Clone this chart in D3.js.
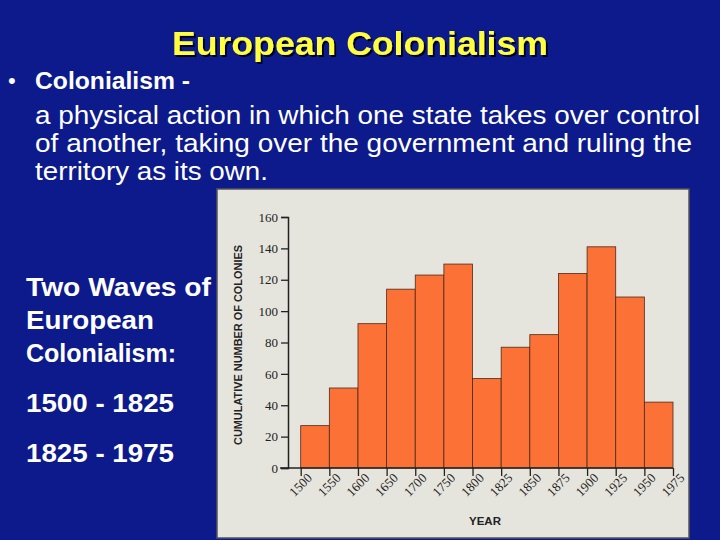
<!DOCTYPE html><html><head><meta charset="utf-8">
<script src="https://cdn.jsdelivr.net/npm/d3@7"></script>
<style>body{margin:0;background:#0c1a8c;}svg{display:block;}</style></head><body>
<svg id="c" width="720" height="540"><defs><filter id="sh"><feDropShadow dx="2" dy="2" stdDeviation="0.6" flood-color="#000022"/></filter></defs></svg>
<script>
const years = [1500,1550,1600,1650,1700,1750,1800,1825,1850,1875,1900,1925,1950,1975];
const values = [27,51,92,114,123,130,57,77,85,124,141,109,42];
const yTicks = [0,20,40,60,80,100,120,140,160];
const bodyLines = ["a physical action in which one state takes over control","of another, taking over the government and ruling the","territory as its own."];
const bodyLens = [665,657,233];
const sideLines = ["Two Waves of","European","Colonialism:"];
const sideLens = [185,128,150];
const waves = ["1500 - 1825","1825 - 1975"];

const svg = d3.select("#c");
svg.append("rect").attr("width",720).attr("height",540).attr("fill","#0c1a8c");
const tf = "Liberation Sans";
svg.append("text").attr("x",172).attr("y",55).attr("textLength",376).attr("lengthAdjust","spacingAndGlyphs")
 .attr("font-family",tf).attr("font-weight","bold").attr("font-size",34).attr("filter","url(#sh)")
 .attr("fill","#ffff40").text("European Colonialism");
svg.append("text").attr("x",8).attr("y",88).attr("fill","#fff").attr("font-family",tf).attr("font-size",22).text("•");
svg.append("text").attr("x",35).attr("y",89).attr("fill","#fff").attr("font-family",tf).attr("font-weight","bold").attr("font-size",24)
 .attr("textLength",155).attr("lengthAdjust","spacingAndGlyphs").text("Colonialism -");
bodyLines.forEach((l,i)=>svg.append("text").attr("x",35).attr("y",124+i*28).attr("fill","#fff")
 .attr("font-family",tf).attr("font-size",25).attr("textLength",bodyLens[i]).attr("lengthAdjust","spacingAndGlyphs").text(l));
sideLines.forEach((l,i)=>svg.append("text").attr("x",26).attr("y",296+i*33).attr("fill","#fff")
 .attr("font-family",tf).attr("font-weight","bold").attr("font-size",25).attr("textLength",sideLens[i]).attr("lengthAdjust","spacingAndGlyphs").text(l));
waves.forEach((l,i)=>svg.append("text").attr("x",26).attr("y",412+i*50).attr("fill","#fff")
 .attr("font-family",tf).attr("font-weight","bold").attr("font-size",25).attr("textLength",148).attr("lengthAdjust","spacingAndGlyphs").text(l));

svg.append("rect").attr("x",217).attr("y",189).attr("width",472).attr("height",349)
 .attr("fill","#e6e5dd").attr("stroke","#555").attr("stroke-width",1.5);
const x = d3.scaleBand().domain(d3.range(values.length)).range([300.7,673]).padding(0);
const y = d3.scaleLinear().domain([0,160]).range([468,217]);
const g = svg.append("g");
g.selectAll(".bar").data(values).join("rect").attr("x",(d,i)=>x(i)).attr("y",d=>y(d))
 .attr("width",x.bandwidth()).attr("height",d=>y(0)-y(d)).attr("fill","#fc7136").attr("stroke","#4a2a1a").attr("stroke-width",0.8);
const ya = g.append("g").attr("transform","translate(288,0)").call(d3.axisLeft(y).tickValues(yTicks).tickSize(7).tickPadding(3));
ya.select(".domain").attr("stroke","#222").attr("stroke-width",1.5);
ya.selectAll("line").attr("stroke","#222").attr("stroke-width",1.3);
ya.selectAll("text").attr("font-family","Liberation Serif").attr("font-size",13).attr("fill","#222");
const xp = years.map((yr,i)=>300.7+i*x.bandwidth());
const xa = d3.scaleOrdinal().domain(years).range(xp);
const xg = g.append("g").attr("transform","translate(0,468)").call(d3.axisBottom(xa).tickSize(8).tickPadding(3));
xg.select(".domain").remove();
g.append("line").attr("x1",280).attr("x2",673).attr("y1",468).attr("y2",468).attr("stroke","#222").attr("stroke-width",1.5);
xg.selectAll("line").attr("stroke","#222").attr("stroke-width",1.3);
xg.selectAll("text").attr("font-family","Liberation Serif").attr("font-size",13).attr("fill","#222")
 .attr("text-anchor","end").attr("transform","translate(5,4) rotate(-45)").attr("dy","0.35em").attr("y",5).attr("x",0);
svg.append("text").attr("x",485).attr("y",525).attr("text-anchor","middle").attr("font-family","Liberation Sans")
 .attr("font-weight","bold").attr("font-size",11.5).attr("fill","#222").text("YEAR");
svg.append("text").attr("transform","translate(242,345) rotate(-90)").attr("text-anchor","middle").attr("font-family","Liberation Sans")
 .attr("font-weight","bold").attr("font-size",11.5).attr("fill","#222").attr("textLength",200).attr("lengthAdjust","spacingAndGlyphs").text("CUMULATIVE NUMBER OF COLONIES");
</script></body></html>
